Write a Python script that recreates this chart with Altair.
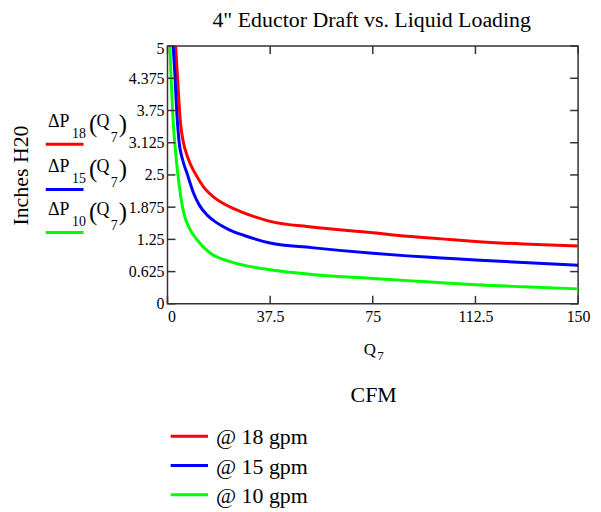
import altair as alt
import pandas as pd

FONT = "Liberation Serif"

# ---- data ----
q18 = [2.6, 3.0, 3.6, 4.8, 5.7, 7.4, 10.2, 13.3, 16.9, 22.4, 27.2, 37.5, 52.6, 75, 87.6, 100, 112.5, 130, 150]
dp18 = [5.5, 5.0, 4.45, 3.48, 3.16, 2.84, 2.52, 2.26, 2.07, 1.89, 1.78, 1.60, 1.49, 1.38, 1.31, 1.26, 1.21, 1.16, 1.12]

q15 = [1.7, 2.1, 2.7, 3.3, 4.2, 5.6, 7.2, 9.5, 11.8, 14.5, 17.5, 22.4, 27.8, 37.5, 52.6, 75, 87.6, 100, 112.5, 130, 150]
dp15 = [5.5, 5.0, 4.45, 3.80, 3.16, 2.78, 2.52, 2.15, 1.90, 1.72, 1.59, 1.44, 1.33, 1.18, 1.09, 0.98, 0.93, 0.89, 0.85, 0.80, 0.75]

q10 = [0.7, 0.9, 1.3, 1.9, 2.7, 3.6, 4.4, 5.4, 6.5, 7.8, 10.8, 15.7, 22.9, 27.8, 37.5, 52.6, 75, 87.6, 100, 112.5, 130, 150]
dp10 = [5.5, 5.0, 4.4, 3.7, 3.1, 2.6, 2.25, 1.90, 1.66, 1.49, 1.24, 0.98, 0.82, 0.75, 0.66, 0.57, 0.49, 0.45, 0.41, 0.37, 0.33, 0.29]

series_names = ["18", "15", "10"]
series_colors = ["#ff0000", "#0000ff", "#00ff00"]

x_ticks = [0, 37.5, 75, 112.5, 150]
y_ticks = [0, 0.625, 1.25, 1.875, 2.5, 3.125, 3.75, 4.375, 5]

title_text = '4" Eductor Draft vs. Liquid Loading'
y_title = "Inches H20"
x_title_main, x_title_sub = "Q", "7"
x_title2 = "CFM"
legend_texts = ["@ 18 gpm", "@ 15 gpm", "@ 10 gpm"]

# ---- layout (pixels on page) ----
L, T = 168.5, 44.7          # plot origin on page
W, H = 413.2, 259.4         # plot area

rows = []
for name, qs, ds in [("18", q18, dp18), ("15", q15, dp15), ("10", q10, dp10)]:
    for q, d in zip(qs, ds):
        rows.append({"Q": q, "dP": d, "s": name})
df = pd.DataFrame(rows)

xscale = alt.Scale(domain=[0, 150], nice=False, zero=False)
yscale = alt.Scale(domain=[0, 5], nice=False, zero=False)

x_axis = alt.Axis(values=x_ticks, format=".4~f", title=None, grid=False, domain=False, ticks=False,
                  labelFont=FONT, labelFontSize=16, labelColor="black",
                  labelPadding=5, labelFlush=False, labelOverlap=False,
                  labelAlign={"condition": {"test": "datum.value == 0", "value": "left"}, "value": "center"})
y_axis = alt.Axis(values=y_ticks, format=".4~f", title=None, grid=False, domain=False, ticks=False,
                  labelFont=FONT, labelFontSize=16, labelColor="black",
                  labelPadding=3.5, labelFlush=False, labelOverlap=False,
                  labelOffset={"condition": {"test": "datum.value == 5", "value": 3}, "value": 0})

X = alt.X("Q:Q", scale=xscale, axis=x_axis)
Y = alt.Y("dP:Q", scale=yscale, axis=y_axis)

lines = alt.Chart(df).mark_line(clip=True, strokeWidth=3, interpolate="monotone").encode(
    x=X, y=Y,
    color=alt.Color("s:N", scale=alt.Scale(domain=series_names, range=series_colors), legend=None),
    detail="s:N",
)

TICK = 8
FRAME = "#333333"
ytdf = pd.DataFrame({"dP": y_ticks})
xtdf = pd.DataFrame({"Q": x_ticks})
ticks_left = alt.Chart(ytdf).mark_rule(color=FRAME, strokeWidth=1.5).encode(
    y=Y, x=alt.value(0), x2=alt.value(TICK))
ticks_right = alt.Chart(ytdf).mark_rule(color=FRAME, strokeWidth=1.5).encode(
    y=Y, x=alt.value(W - TICK), x2=alt.value(W))
ticks_bottom = alt.Chart(xtdf).mark_rule(color=FRAME, strokeWidth=1.5).encode(
    x=X, y=alt.value(H - TICK), y2=alt.value(H))
ticks_top = alt.Chart(xtdf).mark_rule(color=FRAME, strokeWidth=1.5).encode(
    x=X, y=alt.value(0), y2=alt.value(TICK))

one = pd.DataFrame({"a": [0]})


def txt(text, x, y, size, align="left", angle=0):
    kw = dict(text=text, font=FONT, fontSize=size, align=align, baseline="alphabetic", color="black")
    if angle:
        kw["angle"] = angle
    return alt.Chart(one).mark_text(**kw).encode(x=alt.value(x - L), y=alt.value(y - T))


def hline(x1, x2, y, color):
    return alt.Chart(one).mark_rule(color=color, strokeWidth=3).encode(
        x=alt.value(x1 - L), x2=alt.value(x2 - L), y=alt.value(y - T))


layers = [lines, ticks_left, ticks_right, ticks_bottom, ticks_top]

# title and axis titles
layers.append(txt(title_text, 374, 26, 22, align="center"))
layers.append(txt(y_title, 28, 175, 22, align="center", angle=270))
layers.append(txt(x_title_main, 366, 356, 17))
layers.append(txt(x_title_sub, 379.5, 361, 13))
layers.append(txt(x_title2, 376, 403, 22, align="center"))

# left-side function labels
base_y = [126.5, 171.5, 215]
line_y = [143.5, 189, 232.3]
for name, b, ly, col in zip(series_names, base_y, line_y, series_colors):
    layers.append(txt("\u0394P", 48.3, b, 18))
    layers.append(txt(name, 72.5, b + 11, 14))
    layers.append(txt("(", 89.5, b + 5, 25))
    layers.append(txt("Q", 97, b, 18))
    layers.append(txt("7", 111.5, b + 15, 14))
    layers.append(txt(")", 119.5, b + 5, 25))
    layers.append(hline(46, 84, ly, col))

# bottom legend
leg_line_y = [437.3, 466.7, 496.3]
leg_text_y = [445.5, 475, 504.5]
for t, ly, ty, col in zip(legend_texts, leg_line_y, leg_text_y, series_colors):
    layers.append(hline(171.7, 209.3, ly, col))
    layers.append(txt(t, 217.3, ty, 22))

chart = alt.layer(*layers).properties(
    width=W, height=H,
    background="white",
    autosize=alt.AutoSizeParams(type="none"),
    padding={"left": L - 8, "top": T - 8, "right": 15, "bottom": 504 - (T - 8) - H},
).configure_view(
    stroke=FRAME, strokeWidth=1.5
).configure_axis(
    labelFont=FONT, labelFontSize=16, labelColor="black", labelOverlap=False
)

chart.save("out.html", embed_options={"renderer": "svg", "actions": False})
